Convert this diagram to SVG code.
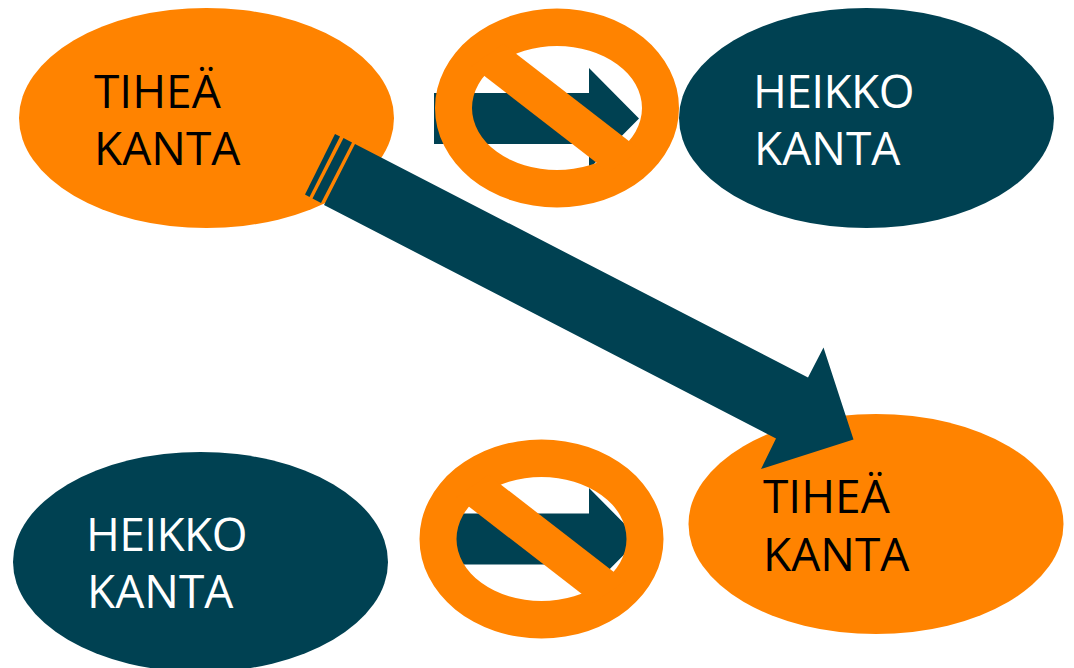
<svg xmlns="http://www.w3.org/2000/svg" width="1074" height="668" viewBox="0 0 1074 668">
<style>
.o{fill:#ff8300}.d{fill:#004152}
text{font-family:"Open Sans","Noto Sans",sans-serif;font-size:46px}
.k{fill:#000}.w{fill:#fff}
.t{letter-spacing:-0.6px}
</style>
<defs>
<path id="no" fill-rule="evenodd" class="o" d="M-122 0A122 99.5 0 1 1 122 0A122 99.5 0 1 1 -122 0ZM-85 0A85 62 0 1 0 85 0A85 62 0 1 0 -85 0Z"/>
<polygon id="bar" class="o" points="-85,-42 -53,-64 84,42 52,64"/>
</defs>
<rect width="1074" height="668" fill="#fff"/>
<g id="node-tihea-top"><ellipse class="o" cx="206.500" cy="118" rx="187.500" ry="110"/><text class="k" x="94" y="108">TIHEÄ</text><text class="k" x="94" y="165">KANTA</text></g>
<g id="node-heikko-top"><ellipse class="d" cx="866.500" cy="118" rx="187.500" ry="110"/><text class="w t" x="753" y="108">HEIKKO</text><text class="w" x="754" y="165">KANTA</text></g>
<g id="node-heikko-bottom"><ellipse class="d" cx="200.500" cy="562" rx="187.500" ry="110"/><text class="w t" x="86" y="551">HEIKKO</text><text class="w" x="87" y="608">KANTA</text></g>
<g id="node-tihea-bottom"><ellipse class="o" cx="876" cy="524" rx="187.500" ry="110"/><text class="k" x="763" y="513">TIHEÄ</text><text class="k" x="763" y="571">KANTA</text></g>
<g id="connectors">
<g id="connector-blocked-top"><polygon class="d" points="434,93 589,93 589,68 639,118.500 589,169 589,144 434,144"/><use href="#no" x="557" y="108"/><use href="#bar" x="556.500" y="108"/></g>
<g id="connector-blocked-bottom"><polygon class="d" points="445,513.500 589,513.500 589,488 639.500,539 589,590 589,564.500 445,564.500"/><use href="#no" x="541.500" y="539"/><use href="#bar" x="541.500" y="539"/></g>
<g id="connector-main">
<polygon class="d" points="335,134 340,136.500 309.500,197 305,194.500"/>
<polygon class="d" points="343.500,138 352,142.500 321,203 312.500,198.500"/>
<polygon class="d" points="355,144 808,377.500 823.500,347.500 853.500,439.500 761,469 776,438.500 324,205"/>
</g>
</g>
</svg>
